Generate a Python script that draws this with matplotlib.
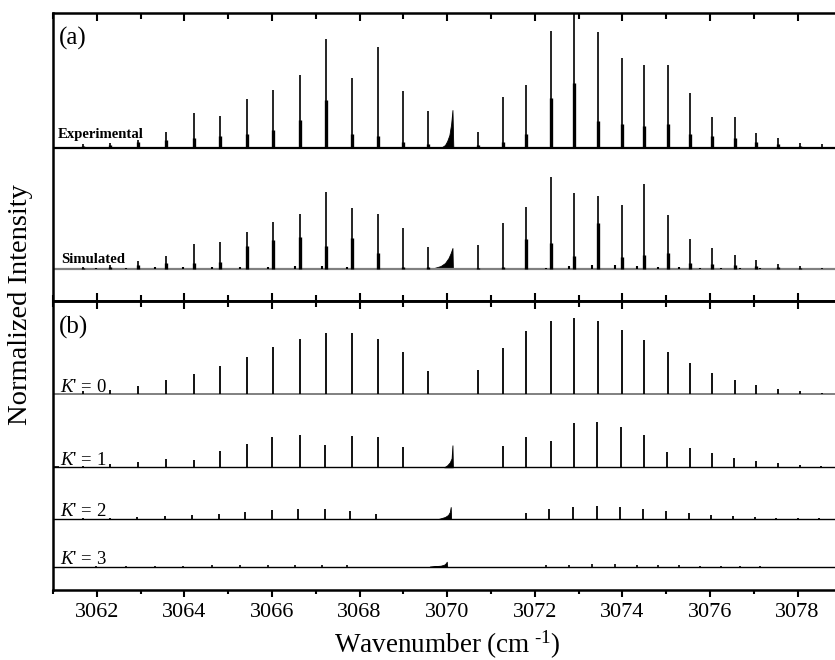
import matplotlib.pyplot as plt
from matplotlib.ticker import MultipleLocator, NullFormatter

plt.rcParams['font.family'] = 'Liberation Serif'
plt.rcParams['mathtext.fontset'] = 'custom'
plt.rcParams['mathtext.rm'] = 'Liberation Serif'
plt.rcParams['mathtext.it'] = 'Liberation Serif:italic'

# line positions (cm-1), P and R branch
p_pos = [3061.69, 3062.31, 3062.93, 3063.58, 3064.21, 3064.81, 3065.44, 3066.03,
         3066.63, 3067.24, 3067.83, 3068.42, 3069.00, 3069.57]
r_pos = [3070.71, 3071.27, 3071.81, 3072.36, 3072.90, 3073.45, 3073.99, 3074.50,
         3075.03, 3075.54, 3076.05, 3076.56, 3077.06, 3077.56, 3078.05, 3078.56]

# (a) experimental, intensities in arbitrary units as read
exp_p = [4, 5, 8, 16, 35, 32, 49, 58, 73, 109, 70, 101, 57, 37]
exp_r = [16, 51, 63, 117, 140, 116, 90, 83, 83, 55, 31, 31, 15, 10, 5, 4]
exp_p_sh = [2, 3, 6, 8, 10, 12, 14, 18, 28, 48, 14, 12, 6, 4]
exp_r_sh = [3, 6, 14, 50, 65, 27, 24, 22, 24, 14, 12, 10, 6, 4, 2, 1]
exp_q_x = [3069.85, 3069.95, 3070.00, 3070.05, 3070.09, 3070.12, 3070.14]
exp_q_y = [0, 3, 7, 13, 24, 38, 0]

# (a) simulated
sim_p = [2, 4, 8, 13, 25, 27, 37, 47, 55, 77, 61, 55, 41, 22]
sim_r = [24, 46, 62, 92, 76, 73, 64, 85, 54, 30, 21, 14, 9, 5, 3, 1]
sim_p_sh = [1, 2, 4, 6, 6, 7, 23, 29, 32, 23, 31, 16, 2, 2]
sim_r_sh = [1, 2, 30, 26, 13, 46, 12, 14, 16, 6, 5, 4, 3, 2, 1, 0]
sim_q_x = [3069.60, 3069.70, 3069.85, 3069.95, 3070.03, 3070.08, 3070.12, 3070.13]
sim_q_y = [0, 1, 3, 6, 11, 16, 21, 0]

# (b) K' = 0
k0_p = [3, 4, 8, 14, 20, 28, 37, 47, 55, 61, 61, 55, 42, 23]
k0_r = [24, 46, 63, 73, 76, 73, 64, 54, 42, 31, 21, 14, 9, 5, 3, 1]

# (b) K' = 1
k1_p_pos = [3061.69, 3062.31, 3062.93, 3063.58, 3064.21, 3064.81, 3065.44, 3066.00,
            3066.63, 3067.20, 3067.83, 3068.42, 3069.00]
k1_p = [1, 3, 5, 8, 7, 16, 23, 30, 32, 22, 31, 30, 20]
k1_r_pos = [3071.27, 3071.81, 3072.36, 3072.90, 3073.43, 3073.97, 3074.50, 3075.01,
            3075.54, 3076.05, 3076.55, 3077.06, 3077.56, 3078.05, 3078.54]
k1_r = [21, 30, 26, 44, 45, 40, 32, 15, 19, 14, 9, 6, 4, 2, 1]
k1_q_x = [3069.93, 3070.00, 3070.06, 3070.10, 3070.12, 3070.13]
k1_q_y = [0, 2, 5, 9, 22, 0]

# (b) K' = 2
k2_p_pos = [3061.69, 3062.30, 3062.91, 3063.55, 3064.17, 3064.78, 3065.39, 3066.00,
            3066.60, 3067.20, 3067.79, 3068.38]
k2_p = [1, 1, 2, 3, 4, 5, 7, 9, 10, 10, 8, 5]
k2_r_pos = [3071.79, 3072.33, 3072.87, 3073.41, 3073.95, 3074.47, 3075.00, 3075.51,
            3076.03, 3076.52, 3077.03, 3077.51, 3078.01, 3078.49]
k2_r = [6, 10, 12, 13, 12, 10, 8, 6, 4, 3, 2, 1, 1, 1]
k2_q_x = [3069.80, 3069.95, 3070.02, 3070.06, 3070.08, 3070.09]
k2_q_y = [0, 2, 4, 7, 12, 0]

# (b) K' = 3
k3_p_pos = [3061.99, 3062.66, 3063.32, 3063.97, 3064.62, 3065.26, 3065.90, 3066.52,
            3067.14, 3067.71]
k3_p = [1, 1, 1, 1, 1.5, 1.5, 2, 2, 2, 1.5]
k3_r_pos = [3072.26, 3072.78, 3073.31, 3073.82, 3074.33, 3074.81, 3075.30, 3075.77,
            3076.24, 3076.69, 3077.14]
k3_r = [2, 2, 2.5, 2.5, 2, 2, 1.5, 1, 1, 1, 1]
k3_q_x = [3069.60, 3069.70, 3069.85, 3069.93, 3069.97, 3069.99, 3070.00]
k3_q_y = [0, 0.5, 1, 2, 3.5, 5, 0]

# weak K'=3 lines seen in the simulated trace
sim_k3_p = [1, 1, 2, 2, 2, 2, 2, 3, 3, 2]
sim_k3_r = [1, 3, 4, 4, 3, 2, 2, 1, 1, 1, 1]

# baselines
exp_off, sim_off = 121, 0
k_off = [195.7, 122.7, 71, 23.3]

fig = plt.figure(figsize=(8.35, 6.6), dpi=100)
ax_a = fig.add_axes([0.06347, 0.5439, 0.9442, 0.4364])
ax_b = fig.add_axes([0.06347, 0.10606, 0.9442, 0.4379])


def sticks(ax, pos, h, off, lw=1.2, color='k'):
    ax.vlines(pos, off, [off + v for v in h], color=color, lw=lw)


def head(ax, xs, ys, off):
    ax.fill_between(xs, off, [off + v for v in ys], color='k', lw=0.6)


# panel (a)
ax_a.axhline(exp_off, color='k', lw=1.6)
sticks(ax_a, p_pos + r_pos, exp_p + exp_r, exp_off, lw=1.2)
sticks(ax_a, p_pos + r_pos, exp_p_sh + exp_r_sh, exp_off, lw=2.4)
head(ax_a, exp_q_x, exp_q_y, exp_off)

ax_a.axhline(sim_off, color='#808080', lw=1.6)
sticks(ax_a, p_pos + r_pos, sim_p + sim_r, sim_off, lw=1.2)
sticks(ax_a, p_pos + r_pos, sim_p_sh + sim_r_sh, sim_off, lw=2.4)
sticks(ax_a, k3_p_pos + k3_r_pos, sim_k3_p + sim_k3_r, sim_off, lw=1.5)
head(ax_a, sim_q_x, sim_q_y, sim_off)

ax_a.text(3061.11, exp_off + 10, 'Experimental', fontsize=10.6, fontweight='bold')
ax_a.text(3061.18, sim_off + 6, 'Simulated', fontsize=10.6, fontweight='bold')
ax_a.text(0.008, 0.95, '(a)', transform=ax_a.transAxes, fontsize=18, va='top')
ax_a.set_ylim(-32, 256)

# panel (b)
ax_b.axhline(k_off[0], color='#808080', lw=1.4)
for off in k_off[1:]:
    ax_b.axhline(off, color='k', lw=1.0)
sticks(ax_b, p_pos + r_pos, k0_p + k0_r, k_off[0], lw=1.3)
sticks(ax_b, k1_p_pos + k1_r_pos, k1_p + k1_r, k_off[1], lw=1.3)
head(ax_b, k1_q_x, k1_q_y, k_off[1])
sticks(ax_b, k2_p_pos + k2_r_pos, k2_p + k2_r, k_off[2], lw=1.3)
head(ax_b, k2_q_x, k2_q_y, k_off[2])
sticks(ax_b, k3_p_pos + k3_r_pos, k3_p + k3_r, k_off[3], lw=1.2)
head(ax_b, k3_q_x, k3_q_y, k_off[3])

for j, off in enumerate(k_off):
    ax_b.text(3061.16, off + 2.5, "$K$' = %d" % j, fontsize=13.5)
ax_b.text(0.008, 0.95, '(b)', transform=ax_b.transAxes, fontsize=18, va='top')
ax_b.set_ylim(0, 289)

for ax in (ax_a, ax_b):
    ax.set_xlim(3061, 3079)
    ax.xaxis.set_major_locator(MultipleLocator(2))
    ax.xaxis.set_minor_locator(MultipleLocator(1))
    for s in ax.spines.values():
        s.set_linewidth(1.8)
    ax.spines['right'].set_visible(False)

ax_a.tick_params(axis='x', which='both', direction='in', top=True, bottom=True,
                 labelbottom=False, width=1.5)
ax_a.tick_params(axis='x', which='major', length=6)
ax_a.tick_params(axis='x', which='minor', length=4)
ax_a.set_yticks([exp_off, sim_off])
ax_a.tick_params(axis='y', direction='in', length=4, width=1.2, labelleft=False)

ax_b.tick_params(axis='x', which='both', direction='out', top=False, width=1.5,
                 labelsize=16, pad=4)
ax_b.tick_params(axis='x', which='major', length=5)
ax_b.tick_params(axis='x', which='minor', length=3)
ax_b.set_yticks([k_off[0], k_off[1]])
ax_b.tick_params(axis='y', direction='in', length=4, width=1.2, labelleft=False)
top_b = ax_b.secondary_xaxis('top')
top_b.xaxis.set_major_locator(MultipleLocator(2))
top_b.xaxis.set_minor_locator(MultipleLocator(1))
top_b.xaxis.set_major_formatter(NullFormatter())
top_b.tick_params(axis='x', which='both', direction='in', width=1.5)
top_b.tick_params(axis='x', which='major', length=6)
top_b.tick_params(axis='x', which='minor', length=4)
top_b.spines['top'].set_linewidth(1.8)

ax_b.set_xlabel(r'Wavenumber (cm$^{\text{ -1}}$)', fontsize=19.5, labelpad=5)
fig.text(0.025, 0.538, 'Normalized Intensity', rotation=90, fontsize=20.5,
         va='center', ha='center')

fig.savefig('out.png', dpi=100)
